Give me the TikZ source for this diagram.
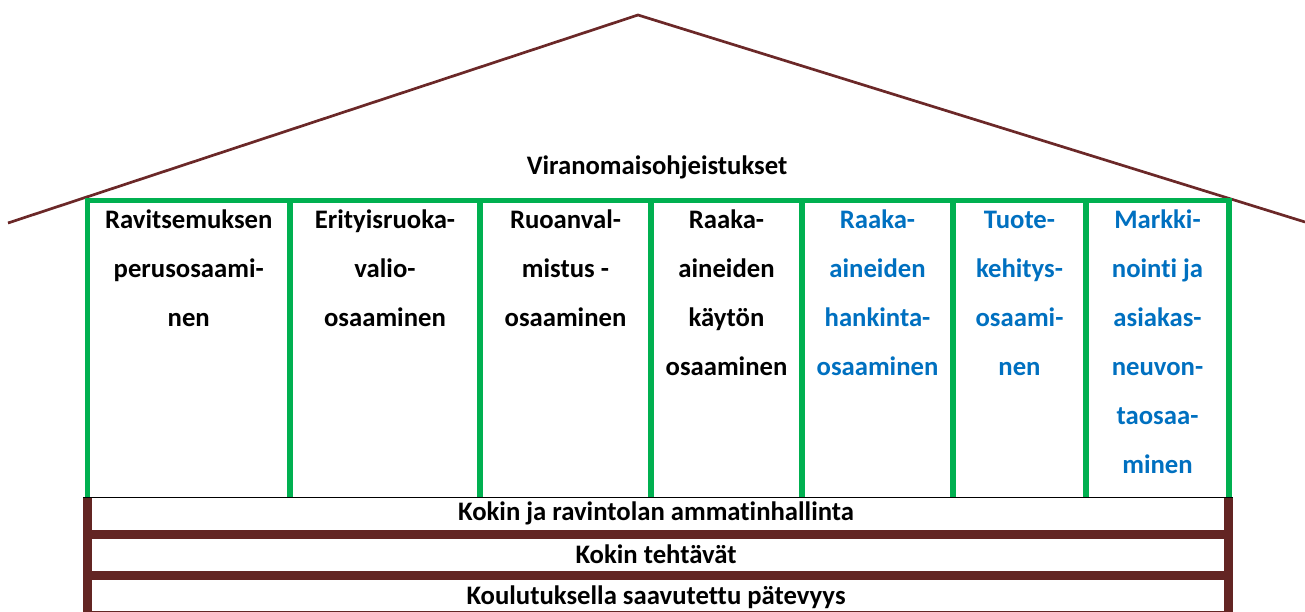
\documentclass[tikz,border=0pt]{standalone}
\usepackage{fontspec}
\setmainfont[Ligatures=NoCommon]{Carlito}
\definecolor{roofline}{HTML}{6B2828}
\definecolor{beam}{HTML}{632523}
\definecolor{pillar}{HTML}{00B050}
\definecolor{bluetext}{HTML}{0070C0}
\begin{document}
\begin{tikzpicture}[x=1pt,y=-1pt,
  lbl/.style={anchor=base,inner sep=0pt,font=\fontsize{26.7}{32}\selectfont\bfseries},
  pillarline/.style={draw=pillar,line width=5.5pt},
  beamfill/.style={fill=beam}]
\useasboundingbox (0,0) rectangle (1305,612);

% roof
\coordinate (eaveL) at (8,223);
\coordinate (ridge) at (638,15);
\coordinate (eaveR) at (1305,222);
\draw[roofline,line width=2.7pt,line join=miter] (eaveL) -- (ridge) -- (eaveR);

\node[lbl] (authority) at (657,175) {Viranomaisohjeistukset};

% pillars
\draw[pillarline,line join=miter] (87.5,497) -- (87.5,200.5) -- (1229,200.5) -- (1229,497);
\foreach \px in {290,480,651,802,953,1086}
  \draw[pillarline] (\px,200.5) -- (\px,497);

% foundation
\draw[line width=1.5pt] (83,497.5) -- (1233,497.5);
\fill[beamfill] (83,498) rectangle (92,612);
\fill[beamfill] (1224,498) rectangle (1233,612);
\fill[beamfill] (83,530) rectangle (1233,539);
\fill[beamfill] (83,571) rectangle (1233,580);
\fill[beamfill] (83,610.5) rectangle (1233,612);

\node[lbl] (base1) at (656,520) {Kokin ja ravintolan ammatinhallinta};
\node[lbl] (base2) at (656,563) {Kokin tehtävät};
\node[lbl] (base3) at (656,604) {Koulutuksella saavutettu pätevyys};

% pillar labels
\foreach \cx/\clr/\lines [count=\i] in {
    188.75/black/{Ravitsemuksen,perusosaami-,nen},
    385/black/{Erityisruoka-,valio-,osaaminen},
    565.5/black/{Ruoanval-,mistus -,osaaminen},
    726.5/black/{Raaka-,aineiden,käytön,osaaminen},
    877.5/bluetext/{Raaka-,aineiden,hankinta-,osaaminen},
    1019.5/bluetext/{Tuote-,kehitys-,osaami-,nen},
    1157.5/bluetext/{Markki-,nointi ja,asiakas-,neuvon-,taosaa-,minen}}
  \foreach \txt [count=\j from 0] in \lines
    \node[lbl,text=\clr] (c\i-\j) at (\cx,229+48.9*\j) {\txt};
\end{tikzpicture}
\end{document}
